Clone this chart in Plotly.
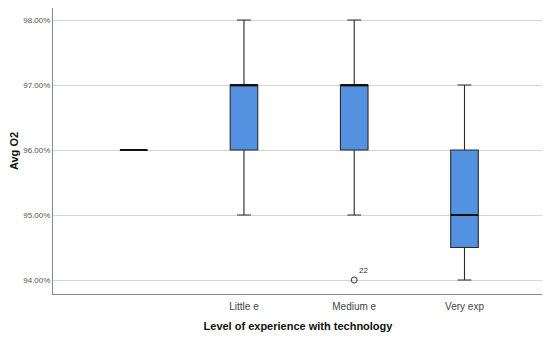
import plotly.graph_objects as go

categories = ["", "Little e", "Medium e", "Very exp"]
lower = [96.0, 95.0, 95.0, 94.0]
q1 = [96.0, 96.0, 96.0, 94.5]
median = [96.0, 97.0, 97.0, 95.0]
q3 = [96.0, 97.0, 97.0, 96.0]
upper = [96.0, 98.0, 98.0, 97.0]
outlier_cat = [2]
outlier_val = [94.0]
outlier_label = ["22"]
yticks = [94, 95, 96, 97, 98]

xpos = list(range(len(categories)))

fig = go.Figure()
fig.add_trace(go.Box(
    x=xpos, q1=q1, median=median, q3=q3, lowerfence=lower, upperfence=upper,
    width=0.25, whiskerwidth=0.5,
    fillcolor="#5591E1", line=dict(color="#2a2a2a", width=1.1),
    boxpoints=False, hoverinfo="skip", showlegend=False,
))
# emphasised median lines
fig.add_trace(go.Box(
    x=xpos, q1=median, median=median, q3=median, lowerfence=median, upperfence=median,
    width=0.25, whiskerwidth=0,
    fillcolor="rgba(0,0,0,0)", line=dict(color="#111111", width=2),
    boxpoints=False, hoverinfo="skip", showlegend=False,
))
fig.add_trace(go.Scatter(
    x=outlier_cat, y=outlier_val, mode="markers+text", text=outlier_label,
    textposition="top right", textfont=dict(size=8, color="#333", family="Liberation Sans"),
    marker=dict(symbol="circle-open", size=6, color="#333", line=dict(width=1)),
    showlegend=False, hoverinfo="skip",
))

fig.update_layout(
    width=542, height=332,
    margin=dict(l=45, r=7, t=0, b=46),
    paper_bgcolor="white", plot_bgcolor="white",
    boxmode="overlay",
    font=dict(family="Liberation Sans, Arial, sans-serif", color="#333"),
    xaxis=dict(
        range=[-0.732, 3.712], tickmode="array", tickvals=xpos, ticktext=categories,
        showgrid=False, showline=True, linecolor="#888", linewidth=1,
        ticks="", tickfont=dict(size=10, color="#444"), automargin=False,
        ticklabelstandoff=3,
        title=dict(text="<b>Level of experience with technology</b>", font=dict(size=11, color="#111"), standoff=11),
        zeroline=False,
    ),
    yaxis=dict(
        range=[93.785, 98.185], tickmode="array", tickvals=yticks,
        ticktext=[f"{v:.2f}%" for v in yticks],
        showgrid=True, gridcolor="#d4d4d4", gridwidth=1,
        showline=True, linecolor="#888", linewidth=1,
        ticks="", tickfont=dict(size=8, color="#555"), automargin=False,
        title=dict(text="<b>Avg O2</b>", font=dict(size=11, color="#111"), standoff=6),
        zeroline=False,
    ),
)

fig.write_html("out.html")
